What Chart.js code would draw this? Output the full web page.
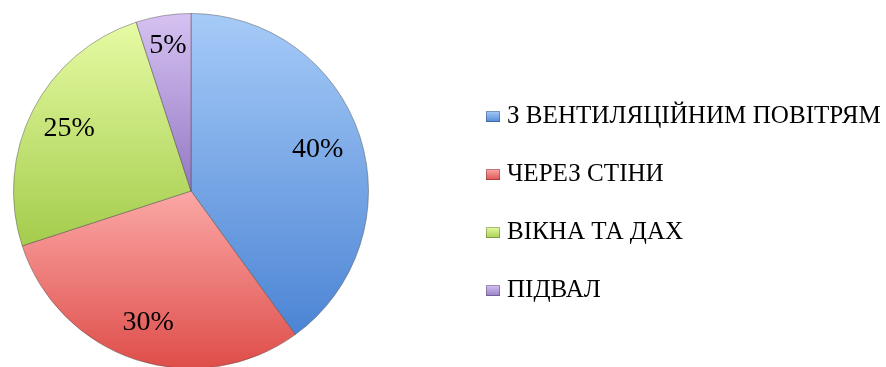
<!DOCTYPE html>
<html>
<head>
<meta charset="utf-8">
<script src="https://cdn.jsdelivr.net/npm/chart.js@4"></script>
<style>
  html, body { margin: 0; padding: 0; background: #fff; overflow: hidden; }
  #wrap { width: 886px; height: 380px; }
</style>
</head>
<body>
<div id="wrap"><canvas id="lossChart" width="886" height="380"></canvas></div>
<script>
// Тепловтрати будинку (частки, %)
const categories = ['З ВЕНТИЛЯЦІЙНИМ ПОВІТРЯМ', 'ЧЕРЕЗ СТІНИ', 'ВІКНА ТА ДАХ', 'ПІДВАЛ'];
const shares = [40, 30, 25, 5];
const percentLabels = ['40%', '30%', '25%', '5%'];

// світлий верх / темний низ кожного сектора
const topColors = ['#a6cbf8', '#fba8a6', '#e6fba4', '#d6c2f2'];
const bottomColors = ['#4c84d4', '#de4d49', '#a4cc4c', '#9479c4'];

const serif = '"Liberation Serif", "DejaVu Serif", serif';

// вертикальні межі сектора, щоб градієнт лягав на сам сектор
function sliceExtent(chart, index) {
    const area = chart.chartArea;
    const cx = (area.left + area.right) / 2;
    const cy = (area.top + area.bottom) / 2;
    const r = Math.min(area.right - area.left, area.bottom - area.top) / 2;
    const total = shares.reduce((a, b) => a + b, 0);
    const before = shares.slice(0, index).reduce((a, b) => a + b, 0);
    const start = -Math.PI / 2 + before / total * Math.PI * 2;
    const end = start + shares[index] / total * Math.PI * 2;
    let yMin = cy, yMax = cy;
    for (let i = 0; i <= 60; i++) {
        const a = start + (end - start) * i / 60;
        const y = cy + Math.sin(a) * r;
        yMin = Math.min(yMin, y);
        yMax = Math.max(yMax, y);
    }
    return [yMin, yMax];
}

function sliceFill(context) {
    const chart = context.chart;
    const i = context.dataIndex;
    if (!chart.chartArea) return bottomColors[i];
    const [y0, y1] = sliceExtent(chart, i);
    const g = chart.ctx.createLinearGradient(0, y0, 0, y1);
    g.addColorStop(0, topColors[i]);
    g.addColorStop(1, bottomColors[i]);
    return g;
}

// підписи відсотків усередині секторів
const percentPlugin = {
    id: 'percentLabels',
    afterDatasetsDraw(chart) {
        const ctx = chart.ctx;
        const meta = chart.getDatasetMeta(0);
        ctx.save();
        ctx.font = '28px ' + serif;
        ctx.fillStyle = '#000';
        ctx.textAlign = 'center';
        ctx.textBaseline = 'middle';
        const k = [0.75, 0.78, 0.77, 0.83];
        meta.data.forEach((arc, i) => {
            const mid = (arc.startAngle + arc.endAngle) / 2;
            const rr = arc.outerRadius * k[i];
            ctx.fillText(percentLabels[i], arc.x + Math.cos(mid) * rr, arc.y + Math.sin(mid) * rr);
        });
        ctx.restore();
    }
};

// легенда праворуч
const sideLegend = {
    id: 'sideLegend',
    afterDraw(chart) {
        const ctx = chart.ctx;
        const x = 486, rowTop = 115, rowGap = 58;
        ctx.save();
        // найдовший підпис має вміститися до правого краю
        let size = 26;
        ctx.font = size + 'px ' + serif;
        const widest = Math.max(...categories.map(c => ctx.measureText(c).width));
        size = Math.floor(size * 375 / widest * 10) / 10;
        ctx.font = size + 'px ' + serif;
        ctx.textBaseline = 'middle';
        categories.forEach((name, i) => {
            const y = rowTop + i * rowGap;
            const g = ctx.createLinearGradient(0, y - 4, 0, y + 8);
            g.addColorStop(0, topColors[i]);
            g.addColorStop(1, bottomColors[i]);
            ctx.fillStyle = g;
            ctx.fillRect(x, y - 4, 14, 11);
            ctx.strokeStyle = 'rgba(0,0,0,0.25)';
            ctx.lineWidth = 1;
            ctx.strokeRect(x + 0.5, y - 3.5, 13, 10);
            ctx.fillStyle = '#000';
            ctx.fillText(name, x + 21, y + 1);
        });
        ctx.restore();
    }
};

new Chart(document.getElementById('lossChart'), {
    type: 'pie',
    data: {
        labels: categories,
        datasets: [{
            data: shares,
            backgroundColor: sliceFill,
            borderColor: 'rgba(70,70,70,0.45)',
            borderWidth: 1
        }]
    },
    options: {
        responsive: false,
        animation: false,
        layout: { padding: { left: 13, top: 13, right: 517, bottom: 11 } },
        plugins: {
            legend: { display: false },
            tooltip: { enabled: false }
        }
    },
    plugins: [percentPlugin, sideLegend]
});
</script>
</body>
</html>
